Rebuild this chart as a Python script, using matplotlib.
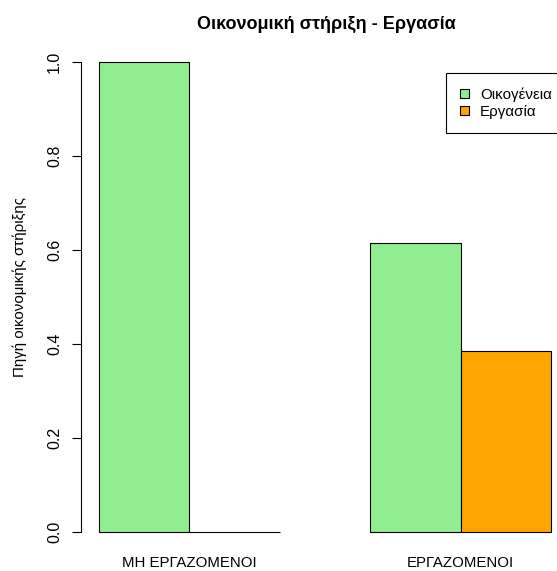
import numpy as np
import matplotlib.pyplot as plt
from matplotlib.patches import Patch

plt.rcParams['font.family'] = ['Liberation Sans', 'DejaVu Sans']

groups = ['ΜΗ ΕΡΓΑΖΟΜΕΝΟΙ', 'ΕΡΓΑΖΟΜΕΝΟΙ']
series = ['Οικογένεια', 'Εργασία']
family = [1.0, 0.615]
work = [0.0, 0.385]
colors = ['#90EE90', '#FFA500']

fig = plt.figure(figsize=(5.57, 5.71), dpi=100)
# axes placed like an R barplot region (extends a bit past the right edge)
ax = fig.add_axes([80.9 / 557, 20.2 / 571, 488.1 / 557, 507.6 / 571])

# R beside=TRUE layout: bars of width 1, one bar gap between groups
centers = np.array([2.0, 5.0])
ax.bar(centers - 0.5, family, width=1.0, color=colors[0], edgecolor='black', linewidth=0.8)
ax.bar(centers + 0.5, work, width=1.0, color=colors[1], edgecolor='black', linewidth=0.8)

ax.set_xlim(0.8, 6.2)
ax.set_ylim(-0.04, 1.04)

for s in ['top', 'right', 'bottom']:
    ax.spines[s].set_visible(False)
ax.spines['left'].set_bounds(0, 1)
ax.spines['left'].set_linewidth(0.8)

ax.set_yticks([0.0, 0.2, 0.4, 0.6, 0.8, 1.0])
ax.set_yticklabels(['0.0', '0.2', '0.4', '0.6', '0.8', '1.0'])
ax.tick_params(axis='y', length=6.5, width=0.8, pad=7, labelsize=11.5, labelrotation=90)
for lab in ax.get_yticklabels():
    lab.set_va('center')

ax.set_xticks(centers)
ax.set_xticklabels(groups)
ax.tick_params(axis='x', length=0, pad=3.5, labelsize=10.8)

ax.set_ylabel('Πηγή οικονομικής στήριξης', fontsize=10.8)
ax.yaxis.set_label_coords((27 - 80.9) / 488.1, 0.52)

fig.text(326 / 557, 1 - 24 / 571, 'Οικονομική στήριξη - Εργασία',
         ha='center', va='center', fontsize=13, fontweight='bold')

handles = [Patch(facecolor=c, edgecolor='black', linewidth=0.8) for c in colors]
leg = fig.legend(handles, series, loc='upper left', bbox_to_anchor=(446 / 557, 1 - 73 / 571),
                 borderaxespad=0, fontsize=10.9, fancybox=False, framealpha=1,
                 edgecolor='black', handlelength=0.6, handleheight=0.6,
                 handletextpad=0.7, labelspacing=0.2, borderpad=0.95)
leg.get_frame().set_linewidth(0.8)

fig.savefig('out.png', dpi=100)
